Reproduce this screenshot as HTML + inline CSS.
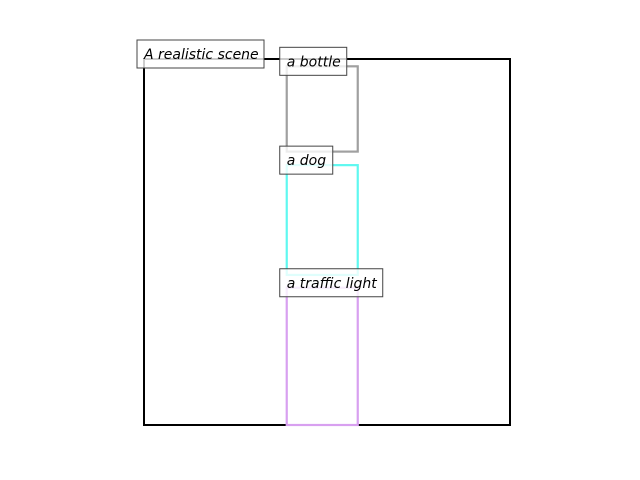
<!DOCTYPE html>
<html><head><meta charset="utf-8">
<style>
html,body{margin:0;padding:0;background:#fff;width:640px;height:480px;overflow:hidden}
svg text{font-family:"DejaVu Sans","Liberation Sans",sans-serif;font-style:italic;font-size:14px}
</style></head>
<body>
<svg id="chart" width="640" height="480" viewBox="0 0 640 480"></svg>
<script>
const labels = ["A realistic scene","a bottle","a dog","a traffic light"];
const boxX = [0, 0.39, 0.39, 0.39];
const boxY = [0, 0.02, 0.29, 0.625];
const boxW = [1, 0.194, 0.194, 0.194];
const boxH = [1, 0.233, 0.30, 0.375];
const colors = ["#000000","#a0a0a0","#5ff8f0","#d8a0f0"];
const labelW = [127, 67, 53, 103];

const X0=144, Y0=59, S=366;
const sx = v => X0 + v*S;
const sy = v => Y0 + v*S;
const svg = document.getElementById('chart');
const NS = "http://www.w3.org/2000/svg";
const names = ["scene","bottle","dog","traffic-light"];
for (let i=0;i<labels.length;i++){
  const r=document.createElementNS(NS,'rect');
  r.setAttribute('x',sx(boxX[i]));r.setAttribute('y',sy(boxY[i]));
  r.setAttribute('width',boxW[i]*S);r.setAttribute('height',boxH[i]*S);
  r.setAttribute('fill','none');r.setAttribute('stroke',colors[i]);
  r.setAttribute('stroke-width',i==0?2:2.2);
  
  
  svg.appendChild(r);
}
for (let i=0;i<labels.length;i++){
  const g=document.createElementNS(NS,'g');
  
  
  const x=sx(boxX[i])-7, y=sy(boxY[i])-19;
  const r=document.createElementNS(NS,'rect');
  r.setAttribute('x',x);r.setAttribute('y',y);r.setAttribute('width',labelW[i]);r.setAttribute('height',28);
  r.setAttribute('fill','rgba(255,255,255,0.8)');r.setAttribute('stroke','#444');r.setAttribute('stroke-width',1);
  g.appendChild(r);
  const t=document.createElementNS(NS,'text');
  t.setAttribute('x',x+7);t.setAttribute('y',y+19);t.setAttribute('fill','#000');
  t.textContent=labels[i];
  g.appendChild(t);
  svg.appendChild(g);
}
</script>
</body></html>
